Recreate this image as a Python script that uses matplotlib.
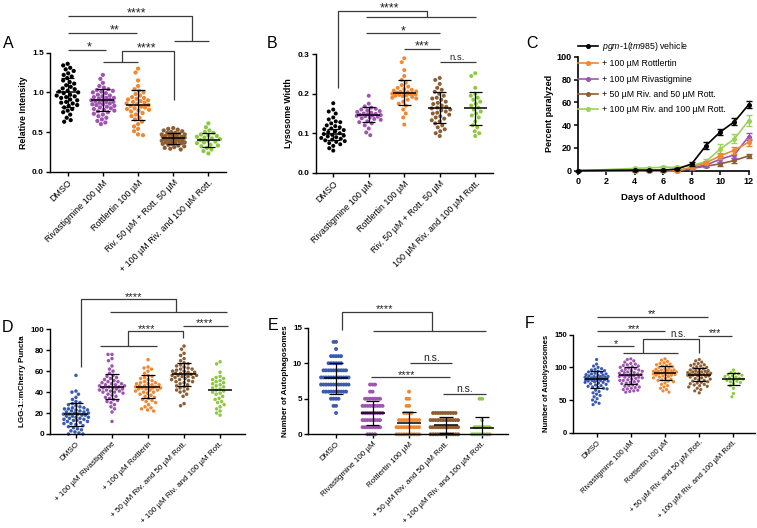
import numpy as np
import matplotlib
matplotlib.use("Agg")
import matplotlib.pyplot as plt

plt.rcParams['font.family'] = ['Liberation Sans', 'DejaVu Sans']
plt.rcParams['mathtext.fontset'] = 'custom'
plt.rcParams['mathtext.it'] = 'Liberation Sans:italic'
plt.rcParams['mathtext.rm'] = 'Liberation Sans'

# ---------------- data ----------------
colors_top = ['#000000', '#9E55B0', '#EE8833', '#8C5E33', '#8CC940']
colors_bot = ['#3B5BAF', '#9E55B0', '#EE8833', '#8C5E33', '#8CC940']

A_labels = ['DMSO', 'Rivastigmine 100 µM', 'Rottlertin 100 µM', 'Riv. 50 µM + Rott. 50 µM',
            '+ 100 µM Riv. and 100 µM Rott.']
B_labels = ['DMSO', 'Rivastigmine 100 µM', 'Rottlertin 100 µM', 'Riv. 50 µM + Rott. 50 µM',
            '100 µM Riv. and 100 µM Rott.']
D_labels = ['DMSO', '+ 100 µM Rivastigmine', '+ 100 µM Rottlerin', '+ 50 µM Riv. and 50 µM Rott.',
            '+ 100 µM Riv. and 100 µM Rott.']
E_labels = ['DMSO', 'Rivastigmine 100 µM', 'Rottlertin 100 µM', '+ 50 µM Riv. and 50 µM Rott.',
            '+ 100 µM Riv. and 100 µM Rott.']
F_labels = E_labels

A_dmso = [1.36,1.34,1.31,1.29,1.27,1.24,1.22,1.20,1.18,1.15,1.13,1.11,1.09,1.07,1.05,1.04,1.02,1.01,1.00,0.99,
          0.97,0.96,0.94,0.93,0.91,0.90,0.88,0.87,0.86,0.84,0.83,0.81,0.79,0.77,0.75,0.72,0.68,0.65,0.63,0.95]
A_riv = [1.22,1.17,1.12,1.08,1.06,1.04,1.03,1.02,1.01,1.00,0.99,0.97,0.96,0.95,0.94,0.93,0.92,0.91,0.90,0.90,
         0.89,0.88,0.88,0.87,0.86,0.85,0.85,0.84,0.83,0.82,0.81,0.80,0.79,0.78,0.77,0.76,0.75,0.73,0.72,0.70,
         0.68,0.66,0.64,0.62,0.60,0.93]
A_rott = [1.30,1.25,1.15,1.08,1.04,1.02,1.00,0.98,0.96,0.94,0.92,0.91,0.90,0.89,0.88,0.87,0.86,0.85,0.84,0.83,
          0.82,0.81,0.80,0.79,0.78,0.77,0.76,0.74,0.72,0.70,0.68,0.66,0.63,0.60,0.57,0.54,0.51,0.47,0.46,0.93]
A_r50 = [0.55,0.54,0.53,0.52,0.51,0.50,0.49,0.49,0.48,0.47,0.47,0.46,0.46,0.45,0.44,0.44,0.43,0.43,0.42,0.42,
         0.41,0.41,0.40,0.40,0.39,0.39,0.38,0.38,0.37,0.37,0.36,0.36,0.35,0.35,0.34,0.33,0.32,0.31,0.30,0.29,
         0.28,0.45]
A_r100 = [0.61,0.56,0.52,0.50,0.49,0.47,0.46,0.45,0.43,0.42,0.41,0.40,0.39,0.38,0.37,0.36,0.34,0.33,0.32,0.30,
          0.28,0.26,0.23,0.44]
A_mean = [1.00, 0.90, 0.84, 0.42, 0.40]
A_sd = [0.18, 0.14, 0.19, 0.07, 0.09]

B_dmso = [0.176,0.16,0.155,0.15,0.14,0.135,0.13,0.128,0.125,0.12,0.118,0.115,0.112,0.11,0.108,0.105,0.103,0.10,
          0.098,0.096,0.094,0.092,0.09,0.088,0.086,0.084,0.082,0.08,0.078,0.075,0.072,0.068,0.062,0.056]
B_riv = [0.195,0.175,0.168,0.165,0.162,0.16,0.158,0.156,0.154,0.152,0.15,0.149,0.148,0.147,0.146,0.145,0.144,
         0.143,0.142,0.14,0.138,0.136,0.134,0.13,0.128,0.125,0.12,0.112,0.102,0.095]
B_rott = [0.29,0.28,0.26,0.245,0.235,0.228,0.222,0.218,0.215,0.212,0.21,0.208,0.206,0.205,0.204,0.203,0.202,
          0.201,0.20,0.199,0.198,0.197,0.196,0.195,0.194,0.192,0.19,0.188,0.185,0.18,0.175,0.17,0.16,0.15,0.14,0.122]
B_r50 = [0.24,0.235,0.225,0.215,0.21,0.205,0.2,0.195,0.19,0.188,0.185,0.18,0.177,0.174,0.17,0.167,0.165,0.163,
         0.16,0.158,0.155,0.152,0.15,0.147,0.143,0.14,0.137,0.133,0.13,0.125,0.12,0.115,0.11,0.105,0.1,0.093]
B_r100 = [0.252,0.245,0.215,0.2,0.195,0.19,0.185,0.18,0.175,0.17,0.165,0.16,0.155,0.15,0.145,0.14,0.13,0.12,
          0.115,0.105,0.1,0.093]
B_mean = [0.097, 0.147, 0.203, 0.165, 0.163]
B_sd = [0.014, 0.019, 0.031, 0.039, 0.042]

C_days = [0, 4, 5, 6, 7, 8, 9, 10, 11, 12]
C_labels = [r'$\mathit{pgm}$-$\mathit{1(tm985)}$ vehicle', '+ 100 µM Rottlertin', '+ 100 µM Rivastigmine',
            '+ 50 µM Riv. and 50 µM Rott.', '+ 100 µM Riv. and 100 µM Rott.']
C_colors = ['#000000', '#EE8833', '#9E55B0', '#8C5E33', '#9AD35A']
C_vehicle = [0, 0.5, 0.5, 0.5, 1.5, 6, 22, 34, 43, 58]
C_vehicle_err = [0, 0.5, 0.5, 0.5, 1, 1.5, 3, 3, 3, 3]
C_rott = [0, 0, 0, 0, 0, 3, 7, 13, 18, 25]
C_rott_err = [0, 0, 0, 0, 0, 1, 1.5, 2.5, 3, 3]
C_riv = [0, 0, 0, 0, 0, 2.5, 5, 10, 14, 30]
C_riv_err = [0, 0, 0, 0, 0, 1, 1.5, 2.5, 3, 3]
C_r50 = [0, 0, 0, 0, 0, 2, 4, 6, 9, 13]
C_r50_err = [0, 0, 0, 0, 0, 1, 1, 1.5, 2, 2]
C_r100 = [0, 2, 2.5, 3, 3, 4.5, 8, 19, 28, 44]
C_r100_err = [0, 0.5, 0.5, 1, 1, 1.5, 2, 4, 4, 5]

D_dmso = [56,41,40,38,35,33,31,30,29,28,27,26,25,25,24,24,23,23,22,22,21,21,20,20,19,19,18,18,17,17,16,16,
          15,15,14,14,13,13,12,12,11,10,10,9,8,7,6,5,4,3,2,1,0,0,19]
D_riv = [76,76,72,70,65,62,60,58,56,55,54,53,52,51,50,50,49,48,48,47,47,46,46,45,45,44,44,43,43,42,42,41,41,
         40,40,39,38,37,36,35,34,33,32,31,30,28,26,24,21,12]
D_rott = [71,64,63,62,60,58,56,55,54,53,52,51,50,49,49,48,48,47,47,46,46,45,45,45,44,44,43,43,42,42,41,40,40,
          39,38,37,36,35,34,33,32,31,30,28,26,25,24,23,22,44]
D_r50 = [84,81,77,75,72,70,68,67,66,65,64,63,62,62,61,60,60,59,59,58,58,57,57,56,56,55,55,54,54,53,52,52,51,
         50,50,49,48,47,46,45,44,43,42,41,40,38,36,29,27,56]
D_r100 = [69,67,59,55,54,53,52,51,50,49,48,47,46,45,44,43,42,41,40,39,38,36,34,33,31,30,28,26,24,22,20,18]
D_mean = [19, 45, 45, 57, 42]
D_sd = [11, 12, 11, 11, 0]

E_dmso = {3: 1, 4: 2, 5: 4, 6: 10, 7: 12, 8: 12, 9: 10, 10: 6, 11: 5, 12: 1, 13: 2}
E_riv = {0: 4, 1: 8, 2: 8, 3: 9, 4: 9, 5: 7, 6: 2, 7: 3}
E_rott = {0: 10, 1: 10, 2: 9, 3: 4, 4: 2, 5: 2, 6: 1}
E_r50 = {0: 12, 1: 12, 2: 12, 3: 10}
E_r100 = {0: 8, 1: 7, 2: 1, 5: 2}
E_mean = [7.9, 3.0, 1.6, 1.3, 0.9]
E_sd = [2.2, 1.7, 1.5, 1.1, 1.5]

F_dmso = [112,105,102,100,98,97,96,95,94,93,92,91,90,90,89,88,88,87,86,86,85,85,84,84,83,83,82,82,81,81,80,80,
          79,79,78,77,77,76,75,74,73,72,71,70,69,68,67,65,63,61,59,57,55,52,50,47,45,43,84,83,86,80]
F_riv = [113,112,110,108,106,105,104,103,102,101,100,99,98,97,96,95,94,93,92,91,90,90,89,88,88,87,86,85,85,84,
         83,82,81,80,80,79,78,77,76,75,74,73,72,71,70,69,68,67,66,65,64,63,62,95,92,86]
F_rott = [113,111,109,107,106,105,104,103,102,101,100,99,98,97,96,95,95,94,93,93,92,92,91,91,90,90,89,89,88,87,
          86,85,84,83,82,81,80,79,78,76,74,72,70,68,66,64,62,96,94,88]
F_r50 = [112,110,108,106,105,104,103,102,101,100,99,98,97,96,95,95,94,93,93,92,91,91,90,90,89,89,88,87,87,86,
         85,84,83,82,81,80,79,78,77,76,75,74,73,72,71,70,68,66,64,61,92,88]
F_r100 = [96,92,91,90,89,88,87,86,85,84,83,82,81,80,79,78,77,75,72,68,60,55]
F_mean = [82, 88, 91, 89, 82]
F_sd = [13, 13, 11, 10, 9]

# ---------------- helpers ----------------
W, H = 757, 528
fig = plt.figure(figsize=(W / 100, H / 100), dpi=100)
fig.patch.set_facecolor('white')


def add_axes_px(left, top, right, bottom):
    return fig.add_axes([left / W, 1 - bottom / H, (right - left) / W, (bottom - top) / H])


def style(ax, xlim, ylim, yticks, yfmt, tick_fs, ylabel, ylabel_fs):
    ax.set_xlim(*xlim)
    ax.set_ylim(*ylim)
    for s in ['top', 'right']:
        ax.spines[s].set_visible(False)
    for s in ['left', 'bottom']:
        ax.spines[s].set_linewidth(1.0)
    ax.set_yticks(yticks)
    ax.set_yticklabels([yfmt.format(v) for v in yticks], fontsize=tick_fs, fontweight='bold')
    ax.tick_params(direction='out', length=3, width=1.0, pad=1.5)
    ax.set_ylabel(ylabel, fontsize=ylabel_fs, fontweight='bold', labelpad=3)
    ax.patch.set_alpha(0)


def swarm(ax, xc, values, d, maxw):
    """Beeswarm layout in pixel space, limited to +-maxw pixels."""
    vals = np.asarray(values, dtype=float)
    pts = ax.transData.transform(np.column_stack([np.full(len(vals), xc), vals]))
    ys = pts[:, 1]
    pxu = (ax.transData.transform((1, 0)) - ax.transData.transform((0, 0)))[0]
    grid = np.arange(-maxw, maxw + 0.01, 0.5)
    grid = grid[np.lexsort((grid, np.abs(grid)))]
    order = np.argsort(-ys, kind='stable')
    px_l, py_l = [], []
    offs = np.zeros(len(vals))
    for i in order:
        y = ys[i]
        if px_l:
            PX = np.array(px_l)
            PY = np.array(py_l)
            dist = np.sqrt((grid[:, None] - PX[None, :]) ** 2 + (y - PY[None, :]) ** 2).min(axis=1)
            ok = np.where(dist >= d)[0]
            c = grid[ok[0]] if len(ok) else grid[np.argmax(dist)]
        else:
            c = 0.0
        px_l.append(c)
        py_l.append(y)
        offs[i] = c
    return xc + offs / pxu


def dotplot(ax, groups, colors, means, sds, dpx, spacing, maxw, mean_hw=0.33, cap_hw=0.19):
    s = (dpx * 0.72) ** 2
    for i, (vals, col) in enumerate(zip(groups, colors)):
        xs = swarm(ax, i, vals, spacing, maxw)
        ax.scatter(xs, vals, s=s, color=col, edgecolors='none', zorder=2, clip_on=False)
    for i, (m, sd) in enumerate(zip(means, sds)):
        ax.hlines(m, i - mean_hw, i + mean_hw, color='black', lw=1.1, zorder=3)
        if sd > 0:
            ax.vlines(i, m - sd, m + sd, color='black', lw=0.9, zorder=3)
            ax.hlines([m - sd, m + sd], i - cap_hw, i + cap_hw, color='black', lw=0.9, zorder=3)


def cat_axis(ax, labels, fs):
    ax.set_xticks(range(len(labels)))
    ax.set_xticklabels(labels, rotation=45, ha='right', rotation_mode='anchor', fontsize=fs)


LC = '#3a3a3a'


def br(ax, xs, ys):
    ax.plot(xs, ys, color=LC, lw=0.9, clip_on=False, solid_capstyle='butt', zorder=4)


def star(ax, x, y, s, fs=9, dy=-0.5):
    ax.annotate(s, (x, y), xytext=(0, dy), textcoords='offset points', ha='center', va='baseline',
                fontsize=fs, color='#222222', annotation_clip=False)


def ns(ax, x, y, fs=6.8):
    ax.annotate('n.s.', (x, y), xytext=(0, 1.5), textcoords='offset points', ha='center', va='baseline',
                fontsize=fs, color='#222222', annotation_clip=False)


def letter(x, y, s):
    fig.text(x / W, 1 - y / H, s, fontsize=11.5, ha='left', va='baseline')

# ---------------- Panel A ----------------
axA = add_axes_px(50.1, 52.7, 226, 171.7)
style(axA, (-0.5, 4.5), (0, 1.5), [0, 0.5, 1.0, 1.5], '{:.1f}', 6, 'Relative Intensity', 6.3)
dotplot(axA, [A_dmso, A_riv, A_rott, A_r50, A_r100], colors_top, A_mean, A_sd, 4.2, 4.6, 11.5)
cat_axis(axA, A_labels, 6.4)
br(axA, [0, 1.1], [1.535, 1.535]); star(axA, 0.6, 1.535, '*')
br(axA, [0, 1.96], [1.75, 1.75]); star(axA, 1.34, 1.75, '**')
br(axA, [0, 3.52, 3.52], [1.963, 1.963, 1.648]); br(axA, [3.03, 4.01], [1.648, 1.648])
star(axA, 1.96, 1.963, '****')
br(axA, [1.01, 1.99], [1.379, 1.379]); br(axA, [1.55, 1.55, 3.01, 3.01], [1.379, 1.525, 1.525, 0.904])
star(axA, 2.24, 1.525, '****')
letter(3, 48, 'A')

# ---------------- Panel B ----------------
axB = add_axes_px(315.5, 54.3, 493, 172.7)
style(axB, (-0.5, 4.5), (0, 0.3), [0, 0.1, 0.2, 0.3], '{:.1f}', 6, 'Lysosome Width', 6.3)
dotplot(axB, [B_dmso, B_riv, B_rott, B_r50, B_r100], colors_top, B_mean, B_sd, 4.0, 4.5, 12)
cat_axis(axB, B_labels, 6.4)
br(axB, [0.14, 0.14, 2.64, 2.64], [0.214, 0.41, 0.41, 0.394]); br(axB, [0.91, 4.01], [0.394, 0.394])
star(axB, 1.59, 0.41, '****')
br(axB, [0.91, 3.0], [0.353, 0.353]); star(axB, 1.98, 0.353, '*')
br(axB, [2.0, 3.0], [0.313, 0.313]); star(axB, 2.5, 0.313, '***')
br(axB, [3.0, 4.03], [0.281, 0.281]); ns(axB, 3.5, 0.281)
letter(267, 48, 'B')

# ---------------- Panel C ----------------
axC = add_axes_px(577.7, 56.7, 748.7, 170.7)
axC.set_xlim(0, 12)
axC.set_ylim(0, 100)
for s in ['top', 'right']:
    axC.spines[s].set_visible(False)
for s in ['left', 'bottom']:
    axC.spines[s].set_linewidth(1.2)
axC.set_xticks(range(0, 13, 2))
axC.set_yticks(range(0, 101, 20))
axC.tick_params(direction='out', length=3, width=1.1, labelsize=6.5, pad=1.5)
for t in axC.get_xticklabels() + axC.get_yticklabels():
    t.set_fontweight('bold')
axC.set_xlabel('Days of Adulthood', fontsize=6.8, fontweight='bold', labelpad=5)
axC.set_ylabel('Percent paralyzed', fontsize=6.5, fontweight='bold', labelpad=2)
series = [(C_vehicle, C_vehicle_err), (C_rott, C_rott_err), (C_riv, C_riv_err), (C_r50, C_r50_err),
          (C_r100, C_r100_err)]
for idx in [4, 3, 2, 1, 0]:
    vals, err = series[idx]
    axC.errorbar(C_days, vals, yerr=err, color=C_colors[idx], lw=1.2, marker='o', ms=2.6,
                 capsize=2, elinewidth=1.0, capthick=1.0, clip_on=False, zorder=3 + (4 - idx))
handles = [plt.Line2D([], [], color=c, lw=1.2, marker='o', ms=2.6) for c in C_colors]
axC.legend(handles, C_labels, loc='upper left', bbox_to_anchor=(578 / W, 1 - 40 / H),
           bbox_transform=fig.transFigure, frameon=False, fontsize=6.3, handlelength=2.3,
           handletextpad=0.5, labelspacing=0.72, borderaxespad=0, borderpad=0)
letter(526, 48, 'C')

# ---------------- Panel D ----------------
axD = add_axes_px(50, 329.3, 245, 434)
style(axD, (-0.72, 4.69), (0, 100), [0, 20, 40, 60, 80, 100], '{:d}', 5.8, 'LGG-1::mCherry Puncta', 5.8)
dotplot(axD, [D_dmso, D_riv, D_rott, D_r50, D_r100], colors_bot, D_mean, D_sd, 3.5, 3.8, 12.5)
cat_axis(axD, D_labels, 5.8)
br(axD, [0.14, 0.14, 2.78, 2.78], [64, 129, 129, 117]); br(axD, [0.94, 4.19], [117, 117])
star(axD, 1.6, 129, '****', fs=8)
br(axD, [0.67, 2.24], [84, 84]); br(axD, [1.45, 1.45, 2.98, 2.98], [84, 98.4, 98.4, 91.4])
star(axD, 1.95, 98.4, '****', fs=8)
br(axD, [2.98, 4.21], [103.5, 103.5]); star(axD, 3.58, 103.5, '****', fs=8)
letter(2, 332, 'D')

# ---------------- Panel E ----------------
axE = add_axes_px(308.3, 327.7, 508, 434.3)
style(axE, (-0.76, 4.71), (0, 15), [0, 5, 10, 15], '{:d}', 5.8, 'Number of Autophagosomes', 5.9)
E_groups = [np.repeat(list(g.keys()), list(g.values())) for g in [E_dmso, E_riv, E_rott, E_r50, E_r100]]
dotplot(axE, E_groups, colors_bot, E_mean, E_sd, 3.9, 2.5, 15)
cat_axis(axE, E_labels, 5.8)
br(axE, [0.16, 0.16, 2.64, 2.64], [14.7, 17.25, 17.25, 14.6]); br(axE, [1.02, 4.1], [14.6, 14.6])
star(axE, 1.34, 17.25, '****', fs=8)
br(axE, [2.03, 3.17], [10.0, 10.0]); ns(axE, 2.62, 10.0, fs=7.5)
br(axE, [0.95, 3.12], [8.0, 8.0]); star(axE, 1.94, 8.0, '****', fs=8)
br(axE, [2.94, 4.1], [5.67, 5.67]); ns(axE, 3.52, 5.67, fs=7.5)
letter(268, 330, 'E')

# ---------------- Panel F ----------------
axF = add_axes_px(573.3, 334.7, 755, 432.7)
style(axF, (-0.68, 4.63), (0, 150), [0, 50, 100, 150], '{:d}', 5.5, 'Number of Autolysosomes', 5.5)
dotplot(axF, [F_dmso, F_riv, F_rott, F_r50, F_r100], colors_bot, F_mean, F_sd, 3.2, 3.5, 11.5)
cat_axis(axF, F_labels, 5.5)
br(axF, [0, 3.27], [177.6, 177.6]); star(axF, 1.61, 177.6, '**', fs=7.5)
br(axF, [0.02, 2.0], [155.6, 155.6]); star(axF, 1.08, 155.6, '***', fs=7.5)
br(axF, [0, 1.1], [132.7, 132.7]); star(axF, 0.57, 132.7, '*', fs=7.5)
br(axF, [0.78, 2.37], [121.4, 121.4]); br(axF, [1.37, 1.37, 3.0, 3.0], [121.4, 143.4, 143.4, 121.4])
ns(axF, 2.39, 143.4, fs=7)
br(axF, [2.96, 3.97], [148.5, 148.5]); star(axF, 3.47, 148.5, '***', fs=7.5)
letter(525, 328, 'F')

fig.savefig('out.png', dpi=100, facecolor='white')
